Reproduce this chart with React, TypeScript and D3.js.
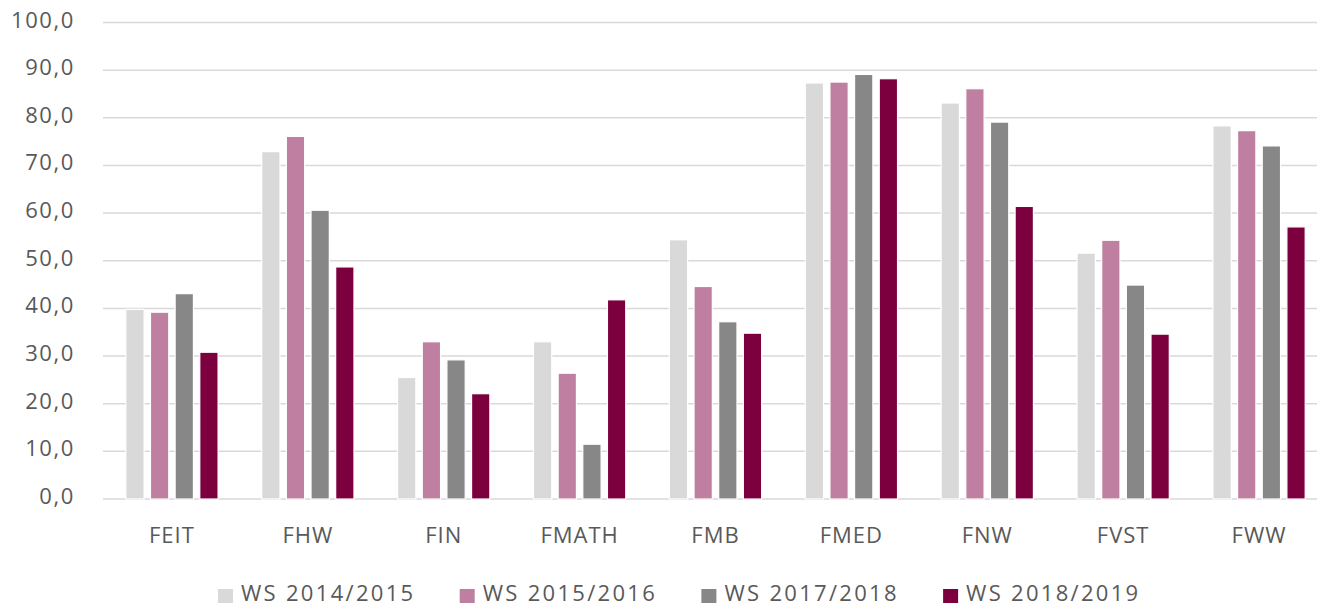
import React, { useEffect, useRef } from 'react';
import * as d3 from 'd3';

const categories = ['FEIT', 'FHW', 'FIN', 'FMATH', 'FMB', 'FMED', 'FNW', 'FVST', 'FWW'];
const seriesNames = ['WS 2014/2015', 'WS 2015/2016', 'WS 2017/2018', 'WS 2018/2019'];
const ws1415 = [39.8, 72.9, 25.5, 33.0, 54.4, 87.3, 83.1, 51.6, 78.3];
const ws1516 = [39.2, 76.1, 33.0, 26.4, 44.6, 87.5, 86.1, 54.3, 77.3];
const ws1718 = [43.1, 60.6, 29.2, 11.5, 37.2, 89.1, 79.1, 44.9, 74.1];
const ws1819 = [30.8, 48.7, 22.1, 41.8, 34.8, 88.2, 61.4, 34.6, 57.1];
const yTicks = [0, 10, 20, 30, 40, 50, 60, 70, 80, 90, 100];
const colors = ['#d9d9d9', '#be7fa0', '#878787', '#7b003d'];

function App() {
  const ref = useRef<SVGSVGElement>(null);

  useEffect(() => {
    const width = 1317;
    const height = 606;
    const font = "'Open Sans', sans-serif";
    const svg = d3.select(ref.current);
    svg.selectAll('*').remove();

    const values = [ws1415, ws1516, ws1718, ws1819];

    const x0 = d3.scaleBand<string>()
      .domain(categories)
      .range([104, 1327])
      .paddingInner(0.321)
      .paddingOuter(0.1605);
    const x1 = d3.scaleBand<string>()
      .domain(seriesNames)
      .range([0, x0.bandwidth()])
      .paddingInner(0.258)
      .paddingOuter(0);
    const y = d3.scaleLinear().domain([0, 100]).range([499, 22.5]);

    // gridlines
    svg.append('g')
      .selectAll('line')
      .data(yTicks)
      .enter()
      .append('line')
      .attr('x1', 103)
      .attr('x2', 1327)
      .attr('y1', d => y(d))
      .attr('y2', d => y(d))
      .attr('stroke', '#d9d9d9')
      .attr('stroke-width', 1.5);

    // tick labels
    const fmt = (d: number) => d3.format('.1f')(d).replace('.', ',');
    svg.append('g')
      .selectAll('text')
      .data(yTicks)
      .enter()
      .append('text')
      .attr('x', 75)
      .attr('y', d => y(d) + 5)
      .attr('text-anchor', 'end')
      .style('font-family', font)
      .style('font-size', '22px')
      .style('letter-spacing', '1.6px')
      .style('fill', '#595959')
      .text(fmt);

    // bars
    const groups = svg.append('g')
      .selectAll('g')
      .data(categories)
      .enter()
      .append('g')
      .attr('transform', d => `translate(${x0(d)},0)`);

    groups.selectAll('rect')
      .data((c, i) => seriesNames.map((s, k) => ({ s, k, v: values[k][i] })))
      .enter()
      .append('rect')
      .attr('x', d => x1(d.s) as number)
      .attr('y', d => y(d.v))
      .attr('width', x1.bandwidth())
      .attr('height', d => y(0) - y(d.v))
      .attr('fill', d => colors[d.k])
      .attr('stroke', 'white')
      .attr('stroke-width', 1.2);

    // category labels
    svg.append('g')
      .selectAll('text')
      .data(categories)
      .enter()
      .append('text')
      .attr('x', d => (x0(d) as number) + x0.bandwidth() / 2)
      .attr('y', 543)
      .attr('text-anchor', 'middle')
      .style('font-family', font)
      .style('font-size', '22px')
      .style('letter-spacing', '1px')
      .style('fill', '#595959')
      .text(d => d);

    // legend
    const legend = svg.append('g')
      .selectAll('g')
      .data(seriesNames)
      .enter()
      .append('g')
      .attr('transform', (d, i) => `translate(${218 + i * 241.7},0)`);
    legend.append('rect')
      .attr('x', 0)
      .attr('y', 589)
      .attr('width', 15)
      .attr('height', 14)
      .attr('fill', (d, i) => colors[i]);
    legend.append('text')
      .attr('x', 23)
      .attr('y', 601)
      .style('font-family', font)
      .style('font-size', '22px')
      .style('letter-spacing', '2.3px')
      .style('fill', '#595959')
      .text(d => d);

    svg.attr('width', width).attr('height', height);
  }, []);

  return (
    <svg ref={ref} width={1317} height={606}
      style={{ position: 'absolute', left: 0, top: 0, background: 'white' }} />
  );
}

export default App;
